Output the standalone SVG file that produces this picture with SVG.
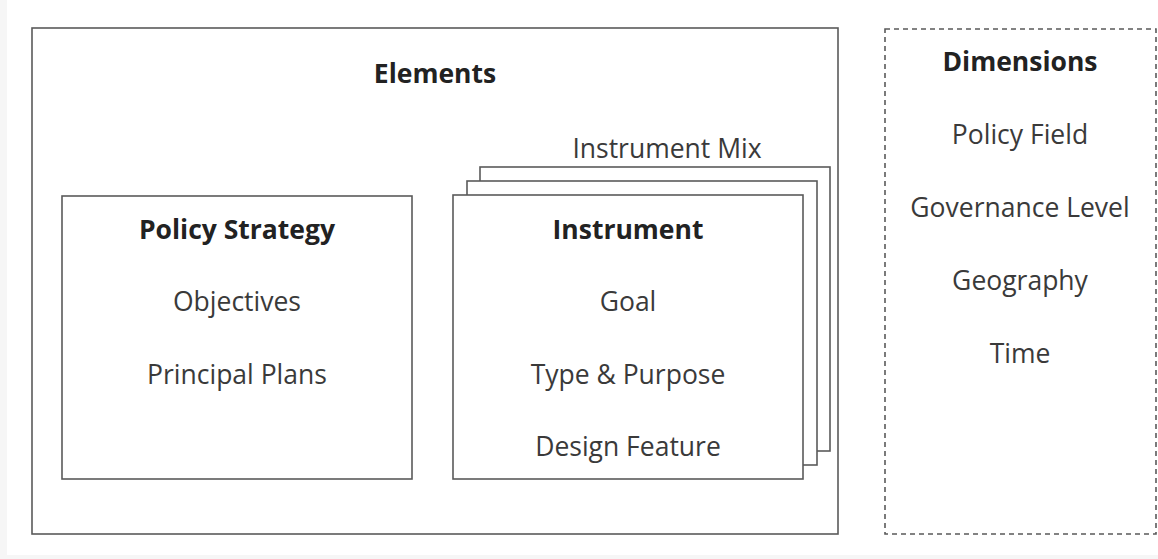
<svg xmlns="http://www.w3.org/2000/svg" width="1158" height="559" viewBox="0 0 1158 559">
<style>
.box{fill:#fff;stroke:#5a5a5a;stroke-width:1.6}
.dash{fill:#fff;stroke:#5a5a5a;stroke-width:1.6;stroke-dasharray:5 4}
.t{font-family:"Open Sans","Noto Sans",sans-serif;font-size:26.5px;fill:#3a3a3a;text-anchor:middle}
.b{font-weight:bold;fill:#222}
</style>
<rect x="0" y="0" width="1158" height="559" fill="#f6f6f6"/>
<rect x="7" y="0" width="1151" height="555" fill="#fff"/>
<g id="elements">
<rect class="box" x="32" y="28" width="806" height="506"/>
<text class="t b" x="435" y="83">Elements</text>
</g>
<g id="policy-strategy">
<rect class="box" x="62" y="196" width="350" height="283"/>
<text class="t b" x="237" y="239">Policy Strategy</text>
<text class="t" x="237" y="311">Objectives</text>
<text class="t" x="237" y="384">Principal Plans</text>
</g>
<g id="instrument-mix">
<text class="t" x="667" y="158">Instrument Mix</text>
<rect class="box" x="480" y="167" width="350" height="284"/>
<rect class="box" x="467" y="181" width="350" height="284"/>
</g>
<g id="instrument">
<rect class="box" x="453" y="195" width="350" height="284"/>
<text class="t b" x="628" y="239">Instrument</text>
<text class="t" x="628" y="311">Goal</text>
<text class="t" x="628" y="384">Type &amp; Purpose</text>
<text class="t" x="628" y="456">Design Feature</text>
</g>
<g id="dimensions">
<rect class="dash" x="885" y="29" width="271" height="505"/>
<text class="t b" x="1020" y="71">Dimensions</text>
<text class="t" x="1020" y="144">Policy Field</text>
<text class="t" x="1020" y="217">Governance Level</text>
<text class="t" x="1020" y="290">Geography</text>
<text class="t" x="1020" y="363">Time</text>
</g>
<g id="connectors"></g>
</svg>
